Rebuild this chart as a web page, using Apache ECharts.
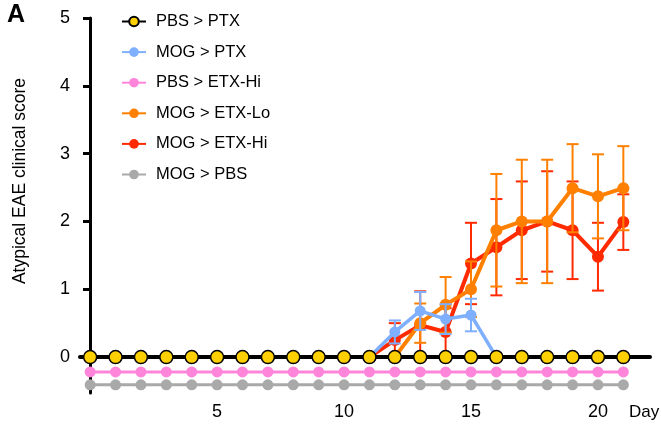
<!DOCTYPE html>
<html>
<head>
<meta charset="utf-8">
<script src="https://cdn.jsdelivr.net/npm/echarts@6/dist/echarts.min.js"></script>
<style>
html,body{margin:0;padding:0;background:#fff;}
#c{width:661px;height:426px;}
</style>
</head>
<body>
<div id="c"></div>
<script>
// ---- data ----
const days = [0,1,2,3,4,5,6,7,8,9,10,11,12,13,14,15,16,17,18,19,20,21];
const xTickLabels = [5,10,15,20];
const yTickLabels = [0,1,2,3,4,5];
const seriesNames = ['PBS > PTX','MOG > PTX','PBS > ETX-Hi','MOG > ETX-Lo','MOG > ETX-Hi','MOG > PBS'];

const pbsPtx    = [0,0,0,0,0,0,0,0,0,0,0,0,0,0,0,0,0,0,0,0,0,0];
const mogPtx    = [0,0,0,0,0,0,0,0,0,0,0,0,0.37,0.68,0.56,0.62,0,0,0,0,0,0];
const pbsEtxHi  = [-0.22,-0.22,-0.22,-0.22,-0.22,-0.22,-0.22,-0.22,-0.22,-0.22,-0.22,-0.22,-0.22,-0.22,-0.22,-0.22,-0.22,-0.22,-0.22,-0.22,-0.22,-0.22];
const mogEtxLo  = [0,0,0,0,0,0,0,0,0,0,0,0,0,0.5,0.77,1.0,1.87,2.0,2.0,2.49,2.37,2.49];
const mogEtxHi  = [0,0,0,0,0,0,0,0,0,0,0,0,0.25,0.47,0.37,1.38,1.62,1.87,2.0,1.87,1.48,1.99];
const mogPbs    = [-0.41,-0.41,-0.41,-0.41,-0.41,-0.41,-0.41,-0.41,-0.41,-0.41,-0.41,-0.41,-0.41,-0.41,-0.41,-0.41,-0.41,-0.41,-0.41,-0.41,-0.41,-0.41];

// error (SEM) per day, null = none drawn
const mogPtxErr   = [null,null,null,null,null,null,null,null,null,null,null,null,0.17,0.28,0.22,0.24,null,null,null,null,null,null];
const mogEtxLoErr = [null,null,null,null,null,null,null,null,null,null,null,null,null,0.29,0.41,0.41,0.83,0.91,0.91,0.65,0.62,0.62];
const mogEtxHiErr = [null,null,null,null,null,null,null,null,null,null,null,null,0.25,0.5,0.35,0.6,0.71,0.72,0.74,0.72,0.5,0.41];

// ---- styles ----
const C = {
  yellow:'#FFD000', blue:'#7FAFFF', pink:'#FF85DA', orange:'#FF8000', red:'#FF2A00', gray:'#A9A9A9'
};
const FONT = '"Liberation Sans", Arial, Helvetica, sans-serif';

function pairs(vals){ return days.map((d,i)=>[d, vals[i]]); }
function errData(vals, errs){
  const out=[];
  days.forEach((d,i)=>{ if(errs[i]!=null) out.push([d, vals[i]-errs[i], vals[i]+errs[i]]); });
  return out;
}
function errSeries(name, vals, errs, color, z){
  return {
    type:'custom', name:name+' err', z:z, silent:true,
    xAxisIndex:0, yAxisIndex:0,
    data: errData(vals, errs),
    encode:{x:0, y:[1,2]},
    renderItem:function(params, api){
      const x=api.value(0), lo=api.value(1), hi=api.value(2);
      const t=api.coord([x,hi]), b=api.coord([x,lo]);
      const w=6;
      const st={stroke:color, lineWidth:2};
      return {type:'group', children:[
        {type:'line', shape:{x1:t[0],y1:t[1],x2:b[0],y2:b[1]}, style:st},
        {type:'line', shape:{x1:t[0]-w,y1:t[1],x2:t[0]+w,y2:t[1]}, style:st},
        {type:'line', shape:{x1:b[0]-w,y1:b[1],x2:b[0]+w,y2:b[1]}, style:st}
      ]};
    }
  };
}
function lineSeries(name, vals, color, lw, size, z, extra){
  return Object.assign({
    type:'line', name:name, data:pairs(vals), z:z,
    xAxisIndex:0, yAxisIndex:0,
    symbol:'circle', symbolSize:size, showSymbol:true,
    lineStyle:{color:color, width:lw},
    itemStyle:{color:color},
    emphasis:{disabled:true},
    animation:false
  }, extra||{});
}

const chart = echarts.init(document.getElementById('c'), null, {renderer:'canvas'});
chart.setOption({
  animation:false,
  backgroundColor:'#fff',
  textStyle:{fontFamily:FONT},
  grid:[
    {left:80, right:11, top:18, bottom:33, containLabel:false},
    // scale 0..5 for ticks/labels, same pixel scale as main grid
    {left:90, right:11, top:18, bottom:69, containLabel:false}
  ],
  legend:{
    orient:'vertical', left:121, top:13, itemGap:13.6, padding:0,
    itemWidth:24, itemHeight:12,
    data:seriesNames,
    textStyle:{fontSize:16.5, color:'#000', fontFamily:FONT, lineHeight:16, padding:[0,0,0,5]}
  },
  xAxis:[
    {type:'value', gridIndex:0, min:-0.4, max:22.05, position:'bottom',
     axisLine:{show:true, onZero:true, lineStyle:{color:'#000', width:4}},
     axisTick:{show:false}, axisLabel:{show:false}, splitLine:{show:false}},
    {type:'value', gridIndex:0, min:-0.4, max:22.05, position:'bottom',
     axisLine:{show:false, onZero:false}, axisTick:{show:false}, splitLine:{show:false},
     axisLabel:{customValues:xTickLabels, fontSize:18, color:'#000', margin:10, fontFamily:FONT}},
    {type:'value', gridIndex:1, min:0, max:1, show:false}
  ],
  yAxis:[
    {type:'value', gridIndex:0, min:-0.53, max:5,
     axisLine:{show:true, onZero:true, lineStyle:{color:'#000', width:3}},
     axisTick:{show:false}, axisLabel:{show:false}, splitLine:{show:false}},
    {type:'value', gridIndex:1, min:0, max:5, interval:1,
     axisLine:{show:false, onZero:false},
     axisTick:{show:true, length:7, lineStyle:{color:'#000', width:3}},
     axisLabel:{fontSize:18, color:'#000', margin:20, fontFamily:FONT},
     splitLine:{show:false}}
  ],
  graphic:[
    {type:'text', left:7, top:3, style:{text:'A', font:'bold 25px '+FONT, fill:'#000'}},
    {type:'text', x:20, y:181, rotation:Math.PI/2,
     style:{text:'Atypical EAE clinical score', font:'17.5px '+FONT, fill:'#000', align:'center', verticalAlign:'middle'}},
    {type:'text', x:629, y:412,
     style:{text:'Day', font:'17px '+FONT, fill:'#000', align:'left', verticalAlign:'middle'}}
  ],
  series:[
    lineSeries(seriesNames[5], mogPbs, C.gray, 3, 11, 2),
    lineSeries(seriesNames[2], pbsEtxHi, C.pink, 3, 11, 3),
    errSeries(seriesNames[4], mogEtxHi, mogEtxHiErr, C.red, 4),
    lineSeries(seriesNames[4], mogEtxHi, C.red, 4, 12, 5),
    errSeries(seriesNames[3], mogEtxLo, mogEtxLoErr, C.orange, 6),
    lineSeries(seriesNames[3], mogEtxLo, C.orange, 4, 12, 7),
    errSeries(seriesNames[1], mogPtx, mogPtxErr, C.blue, 8),
    lineSeries(seriesNames[1], mogPtx, C.blue, 3.5, 11, 9),
    lineSeries(seriesNames[0], pbsPtx, '#000', 4, 13, 10, {
      itemStyle:{color:C.yellow, borderColor:'#000', borderWidth:1.5}
    })
  ]
});
</script>
</body>
</html>
